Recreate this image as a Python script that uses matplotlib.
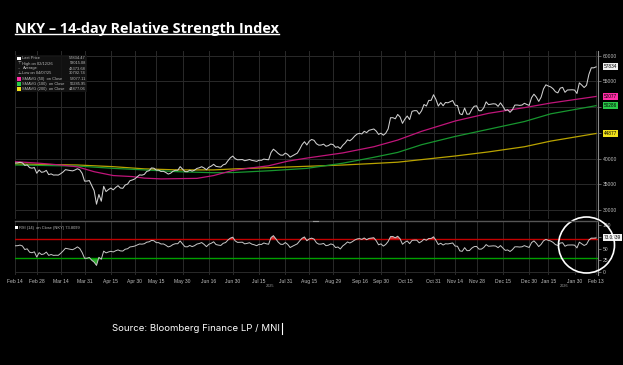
import numpy as np
import pandas as pd
import matplotlib
matplotlib.use("Agg")
import matplotlib.pyplot as plt
from matplotlib.patches import Rectangle, Ellipse
from matplotlib.lines import Line2D

# ---------------- data ----------------
start_date = "2025-02-14"
end_date = "2026-02-13"
market_holidays = ["2025-02-24", "2025-03-20", "2025-04-29", "2025-05-05", "2025-05-06",
                   "2025-07-21", "2025-08-11", "2025-09-15", "2025-09-23", "2025-10-13",
                   "2025-11-03", "2025-11-24", "2025-12-31", "2026-01-01", "2026-01-02",
                   "2026-01-12", "2026-02-11"]

# closes before the window (only used to seed the 14-day RSI)
warmup_close = [38474, 38445, 38572, 38451, 38903, 39027, 39646, 39958, 39931, 39566, 39017,
                39415, 39514, 39572, 38520, 38798, 38831, 39066, 38787, 38801, 38963, 39461]

close_feb25 = [39149, 39174, 39270, 39164, 38678, 38776, 38237, 38142, 38256, 37155]
close_mar25 = [37785, 37331, 37418, 37705, 36887, 37028, 36793, 36819, 36790, 37053,
               37396, 37845, 37751, 37677, 37608, 37780, 38027, 37800, 37120, 35618]
close_apr25 = [35625, 35726, 34736, 33781, 31137, 33013, 31714, 34609, 33586, 33983, 34268,
               33921, 34378, 34730, 34280, 34221, 34869, 35040, 35706, 35840, 36045]
close_may25 = [36452, 36831, 36780, 36929, 37503, 37644, 38183, 38128, 37755, 37754,
               37499, 37529, 37299, 36986, 37160, 37532, 37724, 37722, 38432, 37965]
close_jun25 = [37470, 37446, 37747, 37554, 37741, 38088, 38211, 38421, 38173, 37834, 38311,
               38537, 38885, 38489, 38403, 38354, 38791, 38943, 39585, 40151, 40487]
close_jul25 = [39986, 39762, 39785, 39811, 39588, 39688, 39821, 39646, 39570, 39460, 39679,
               39663, 39901, 39819, 39775, 41171, 41826, 41456, 40998, 40675, 40654, 41070]
close_aug25 = [40800, 40290, 40550, 40794, 41059, 41820, 42718, 43275, 42649, 43378,
               43714, 43546, 42889, 42610, 42633, 42807, 42394, 42520, 42829, 42718]
close_sep25 = [42188, 42310, 41938, 42580, 43019, 43644, 43459, 43838, 44372, 44768,
               44902, 44790, 45303, 45046, 45494, 45630, 45755, 45355, 44700, 44932]
close_oct25 = [44550, 44937, 45769, 47944, 47951, 47734, 48580, 48088, 46847, 47672, 48277,
               47582, 49185, 49316, 49307, 48641, 49299, 50512, 50219, 51307, 51325, 52411]
close_nov25 = [51497, 50212, 50883, 50276, 50912, 50842, 51063, 51281, 50376,
               50323, 48702, 48537, 49823, 48626, 48659, 49559, 50167, 50253]
close_dec25 = [49303, 49303, 49865, 51028, 50491, 50582, 50655, 50603, 50149, 50837, 50168,
               49383, 49512, 49001, 49507, 50402, 50412, 50344, 50408, 50750, 50527, 50339]
close_jan26 = [51832, 52518, 51961, 51117, 51940, 53549, 54341, 54110, 53936, 53583,
               52991, 52774, 53689, 53847, 52885, 53333, 53358, 53376, 53322]
close_feb26 = [52655, 54720, 54293, 53818, 54254, 56364, 57650, 57640, 57834]

sma50_dates = ["2025-02-14", "2025-03-03", "2025-03-14", "2025-03-26", "2025-04-04", "2025-04-16",
               "2025-04-28", "2025-05-08", "2025-05-19", "2025-05-28", "2025-06-09", "2025-06-18",
               "2025-06-30", "2025-07-10", "2025-07-22", "2025-08-01", "2025-08-14", "2025-09-04",
               "2025-09-25", "2025-10-09", "2025-10-24", "2025-11-14", "2025-12-05", "2025-12-26",
               "2026-01-16", "2026-02-13"]
sma50_vals = [39400, 39100, 38750, 38400, 37450, 36700, 36500, 36200, 36050, 36100, 36150, 36700,
              37700, 38200, 38600, 39500, 40100, 41100, 42300, 43600, 45300, 47300, 48800, 49900,
              50800, 52077]

sma100_dates = ["2025-02-14", "2025-03-26", "2025-04-16", "2025-05-08", "2025-05-28", "2025-06-18",
                "2025-07-01", "2025-07-23", "2025-08-14", "2025-09-04", "2025-09-25", "2025-10-09",
                "2025-10-24", "2025-11-14", "2025-12-05", "2025-12-26", "2026-01-16", "2026-02-13"]
sma100_vals = [38750, 38550, 38100, 37800, 37450, 37250, 37300, 37650, 38100, 39100, 40250, 41200,
               42700, 44300, 45700, 47200, 48700, 50286]

sma200_dates = ["2025-02-14", "2025-03-26", "2025-04-16", "2025-05-08", "2025-05-28", "2025-06-18",
                "2025-07-01", "2025-07-23", "2025-08-14", "2025-09-04", "2025-09-25", "2025-10-09",
                "2025-10-24", "2025-11-14", "2025-12-05", "2025-12-26", "2026-01-16", "2026-02-13"]
sma200_vals = [38950, 38750, 38430, 38000, 37800, 37800, 38000, 38250, 38500, 38750, 39050, 39300,
               39800, 40500, 41300, 42300, 43400, 44877]

tick_dates = ["2025-02-14", "2025-02-28", "2025-03-14", "2025-03-31", "2025-04-15", "2025-04-30",
              "2025-05-15", "2025-05-30", "2025-06-16", "2025-06-30", "2025-07-15", "2025-07-31",
              "2025-08-15", "2025-08-29", "2025-09-16", "2025-09-30", "2025-10-15", "2025-10-31",
              "2025-11-14", "2025-11-28", "2025-12-15", "2025-12-30", "2026-01-15", "2026-01-30",
              "2026-02-13"]
tick_labels = ["Feb 14", "Feb 28", "Mar 14", "Mar 31", "Apr 15", "Apr 30", "May 15", "May 30",
               "Jun 16", "Jun 30", "Jul 15", "Jul 31", "Aug 15", "Aug 29", "Sep 16", "Sep 30",
               "Oct 15", "Oct 31", "Nov 14", "Nov 28", "Dec 15", "Dec 30", "Jan 15", "Jan 30",
               "Feb 13"]

price_ticks = [30000, 35000, 40000, 45000, 50000, 55000, 60000]
price_tick_labels = ["30000", "35000", "40000", "", "", "55000", "60000"]
rsi_ticks = [0, 25, 50, 75, 100]
rsi_tick_labels = ["0", "25", "50", "", "100"]
rsi_upper, rsi_lower = 70, 30

legend_labels = ["Last Price", "High on 02/12/26", "Average", "Low on 04/07/25",
                 "SMAVG (50)  on Close", "SMAVG (100)  on Close", "SMAVG (200)  on Close"]
legend_values = ["57834.47", "58015.08", "43373.68", "30792.74", "52077.11", "50285.95", "44877.06"]
rsi_legend = "RSI (14)  on Close (NKY) 73.8099"
title_text = "NKY \u2013 14-day Relative Strength Index"
source_text = "Source: Bloomberg Finance LP / MNI"

# ---------------- derived ----------------
dates = pd.bdate_range(start_date, end_date)
dates = dates[~dates.isin(pd.to_datetime(market_holidays))]
price = np.array(close_feb25 + close_mar25 + close_apr25 + close_may25 + close_jun25 +
                 close_jul25 + close_aug25 + close_sep25 + close_oct25 + close_nov25 +
                 close_dec25 + close_jan26 + close_feb26, dtype=float)
x = np.arange(len(dates))


def idx(ds):
    return dates.searchsorted(pd.to_datetime(ds))


# Wilder 14-day RSI on closes
closes = np.array(list(warmup_close) + price.tolist(), dtype=float)
n = 14
d = np.diff(closes)
g = np.clip(d, 0, None)
l = np.clip(-d, 0, None)
rsi_all = np.full(len(closes), np.nan)
ag, al = g[:n].mean(), l[:n].mean()
rsi_all[n] = 100 - 100 / (1 + ag / al)
for i in range(n, len(d)):
    ag = (ag * (n - 1) + g[i]) / n
    al = (al * (n - 1) + l[i]) / n
    rsi_all[i + 1] = 100 - 100 / (1 + ag / al) if al > 0 else 100
rsi = rsi_all[len(warmup_close):]

# ---------------- figure ----------------
W, H = 623, 365
fig = plt.figure(figsize=(W / 100, H / 100), dpi=100, facecolor="black")


def fx(px):
    return px / W


def fy(py):
    return 1 - py / H


GRID = "#2a2a2a"
LBL = "#c0c0c0"
C50, C100, C200 = "#c0157a", "#17962f", "#b9a300"
B50, B100, B200 = "#ff2ea6", "#2bc94a", "#f2e21c"
SMALL = "Liberation Sans"

left_px, right_px = 15, 598
ax1 = fig.add_axes([fx(left_px), fy(219), fx(right_px - left_px), (219 - 51) / H])
ax2 = fig.add_axes([fx(left_px), fy(275), fx(right_px - left_px), (275 - 222) / H])
for ax in (ax1, ax2):
    ax.set_facecolor("black")
    for s in ("left", "top", "bottom"):
        ax.spines[s].set_visible(False)
    ax.spines["right"].set_color("#8a8a8a")
    ax.spines["right"].set_linewidth(0.8)
    ax.set_xlim(-0.1, 243.8)
    ax.set_xticks(idx(tick_dates))
    ax.grid(True, color=GRID, linewidth=0.7)
    ax.set_axisbelow(True)
    ax.yaxis.tick_right()
    ax.tick_params(axis="y", colors="#8a8a8a", labelcolor=LBL, labelsize=3.6,
                   length=2, width=0.5, pad=1.5)
    for t in ax.get_yticklabels() + ax.get_xticklabels():
        t.set_family(SMALL)

ax1.set_ylim(28255, 60914)
ax1.set_yticks(price_ticks)
ax1.set_yticklabels(price_tick_labels, family=SMALL)
ax1.tick_params(axis="x", length=0, labelbottom=False)

ax1.plot(idx(sma200_dates), sma200_vals, color=C200, lw=0.9)
ax1.plot(idx(sma100_dates), sma100_vals, color=C100, lw=0.9)
ax1.plot(idx(sma50_dates), sma50_vals, color=C50, lw=0.9)
ax1.plot(x, price, color="#d0d0d0", lw=0.75)


def tag(ax, val, text, fc, tc="black"):
    ax.annotate(text, xy=(1.0, val), xycoords=ax.get_yaxis_transform(),
                xytext=(4, 0), textcoords="offset points", ha="left", va="center",
                fontsize=3.4, color=tc, family=SMALL,
                bbox=dict(boxstyle="square,pad=0.2", fc=fc, ec="none"),
                annotation_clip=False)


tag(ax1, price[-1], f"{price[-1]:.0f}", "#f0f0f0")
tag(ax1, sma50_vals[-1], f"{sma50_vals[-1]}", B50)
tag(ax1, sma100_vals[-1], f"{sma100_vals[-1]}", B100)
tag(ax1, sma200_vals[-1], f"{sma200_vals[-1]}", B200)

# legend box (upper panel)
fig.patches.append(Rectangle((fx(15), fy(92)), fx(72), (92 - 55) / H, transform=fig.transFigure,
                             fc="#141414", ec="none", alpha=0.9, zorder=5))
markers = ["sq", "\u22a4", "\u2013", "\u22a5", "sq", "sq", "sq"]
mcolors = ["white", "#bbbbbb", "#bbbbbb", "#bbbbbb", B50, B100, B200]
row_y = [58.4, 63.5, 68.5, 73.5, 78.6, 83.7, 88.8]
for lab, val, mk, mc, ry in zip(legend_labels, legend_values, markers, mcolors, row_y):
    if mk == "sq":
        fig.patches.append(Rectangle((fx(17.2), fy(ry + 1.9)), fx(3.6), 3.6 / H,
                                     transform=fig.transFigure, fc=mc, ec="none", zorder=6))
    else:
        fig.text(fx(19), fy(ry), mk, color=mc, fontsize=3.2, ha="center", va="center", zorder=6)
    fig.text(fx(22.5), fy(ry), lab, color="#b8b8b8", fontsize=2.9, ha="left", va="center",
             family=SMALL, zorder=6)
    fig.text(fx(85.8), fy(ry), val, color="#b8b8b8", fontsize=2.9, ha="right", va="center",
             family=SMALL, zorder=6)

# RSI panel
ax2.set_ylim(-6.4, 107)
ax2.set_yticks(rsi_ticks)
ax2.set_yticklabels(rsi_tick_labels, family=SMALL)
ax2.grid(False, axis="y")
ax2.axhline(0, color=GRID, lw=0.7, zorder=0)
ax2.axhline(rsi_upper, color="#c40000", lw=1.0)
ax2.axhline(rsi_lower, color="#00a000", lw=1.0)
ax2.fill_between(x, rsi_upper, rsi, where=rsi > rsi_upper, interpolate=True,
                 color="#d23a3a", lw=0)
ax2.fill_between(x, rsi_lower, rsi, where=rsi < rsi_lower, interpolate=True,
                 color="#2faa2f", lw=0)
ax2.plot(x, rsi, color="#c8c8c8", lw=0.7)
ax2.set_xticklabels(tick_labels, family=SMALL)
ax2.tick_params(axis="x", length=0, labelsize=3.6, labelcolor=LBL, pad=3)
tag(ax2, rsi[-1], f"{rsi[-1]:.4f}", "#f0f0f0")
fig.patches.append(Rectangle((fx(15), fy(229)), fx(3), 3 / H, transform=fig.transFigure,
                             fc="white", ec="none"))
fig.text(fx(19), fy(227.6), rsi_legend, color="#b8b8b8", fontsize=2.9, ha="left", va="center",
         family=SMALL)

# separator between panels
fig.add_artist(Line2D([fx(left_px), fx(right_px)], [fy(221), fy(221)], color="#555555", lw=1.0))
fig.add_artist(Line2D([fx(313), fx(318)], [fy(221), fy(221)], color="#9a9a9a", lw=0.8))

# year labels
fig.text(fx(270), fy(286), "2025", color="#9a9a9a", fontsize=2.8, ha="center", va="center",
         family=SMALL)
fig.text(fx(564), fy(286), "2026", color="#9a9a9a", fontsize=2.8, ha="center", va="center",
         family=SMALL)

# highlight circle
fig.add_artist(Ellipse((fx(586.5), fy(245)), fx(56), 56 / H, transform=fig.transFigure,
                       fill=False, ec="white", lw=1.2))

# title and source
title = fig.text(fx(15), fy(32.5), title_text, color="white", fontsize=11, fontweight="bold",
                 family="Open Sans", ha="left", va="baseline")
src = fig.text(fx(112), fy(331), source_text, color="white", fontsize=6, family="Inter",
               ha="left", va="baseline")
fig.canvas.draw()
r = fig.canvas.get_renderer()
for t, target in ((title, 264), (src, 166)):
    bb = t.get_window_extent(r)
    t.set_fontsize(t.get_fontsize() * target / bb.width)
fig.canvas.draw()
bb = title.get_window_extent(r)
fig.add_artist(Line2D([fx(15), fx(15) + bb.width / W], [fy(34.3), fy(34.3)], color="white",
                      lw=1.0))
sb = src.get_window_extent(r)
sx = (sb.x1 + 1.5) / W
fig.add_artist(Line2D([sx, sx], [fy(322.5), fy(334)], color="white", lw=0.8))

fig.savefig("out.png", dpi=100, facecolor="black")
